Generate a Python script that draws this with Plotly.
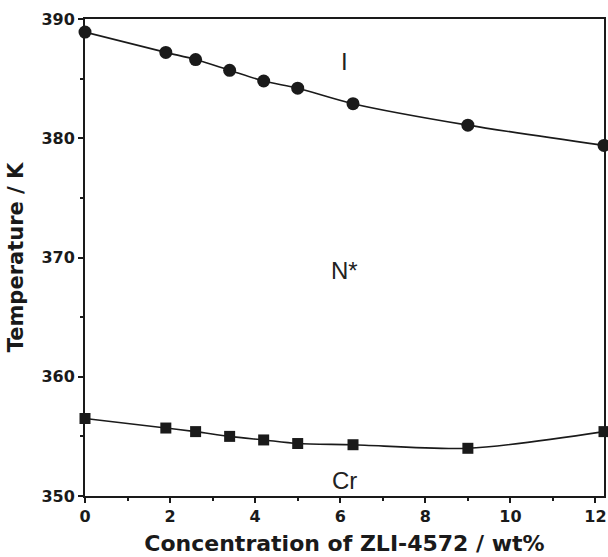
import plotly.graph_objects as go

# Data
conc = [0, 1.9, 2.6, 3.4, 4.2, 5.0, 6.3, 9.0, 12.2]
t_iso = [388.9, 387.2, 386.6, 385.7, 384.8, 384.2, 382.9, 381.1, 379.4]
t_cr = [356.5, 355.7, 355.4, 355.0, 354.7, 354.4, 354.3, 354.0, 355.4]

phase_labels = ["I", "N*", "Cr"]
phase_x = [6.1, 6.1, 6.1]
phase_y = [386.4, 368.9, 351.3]

x_ticks = [0, 2, 4, 6, 8, 10, 12]
y_ticks = [350, 360, 370, 380, 390]

ink = "#1a1a1a"
bold_font = "DejaVu Sans"
fig = go.Figure()
fig.add_trace(go.Scatter(
    x=conc, y=t_iso, mode="lines+markers",
    line=dict(color=ink, width=1.6, shape="spline", smoothing=0.8),
    marker=dict(symbol="circle", size=13, color=ink),
    cliponaxis=False, showlegend=False))
fig.add_trace(go.Scatter(
    x=conc, y=t_cr, mode="lines+markers",
    line=dict(color=ink, width=1.6, shape="spline", smoothing=0.8),
    marker=dict(symbol="square", size=11, color=ink),
    cliponaxis=False, showlegend=False))

for lab, lx, ly in zip(phase_labels, phase_x, phase_y):
    fig.add_annotation(x=lx, y=ly, text=lab, showarrow=False,
                       font=dict(family="Liberation Sans, Arial", size=24, color="#222222"))

axis_common = dict(
    showline=True, linecolor=ink, linewidth=2, mirror=True,
    ticks="outside", ticklen=5, tickwidth=1.5, tickcolor=ink,
    showgrid=False, zeroline=False,
    tickfont=dict(family=bold_font, size=16, color=ink, weight="bold"),
)

fig.update_xaxes(range=[0, 12.2], tickvals=x_ticks,
                 minor=dict(ticks="outside", ticklen=3, dtick=1, tickcolor=ink),
                 title=dict(text="Concentration of ZLI-4572 / wt%", standoff=10,
                            font=dict(family=bold_font, size=22, color=ink, weight="bold")),
                 **axis_common)
fig.update_yaxes(range=[350, 390], tickvals=y_ticks,
                 minor=dict(ticks="outside", ticklen=3, dtick=5, tickcolor=ink),
                 title=dict(text="Temperature / K", standoff=12,
                            font=dict(family=bold_font, size=21, color=ink, weight="bold")),
                 **axis_common)

fig.update_layout(
    width=608, height=557,
    margin=dict(l=85, r=4, t=19, b=61, autoexpand=False),
    plot_bgcolor="white", paper_bgcolor="white",
)

fig.write_html("out.html", config={"displayModeBar": False},
               post_script="document.body.style.margin='0';")
